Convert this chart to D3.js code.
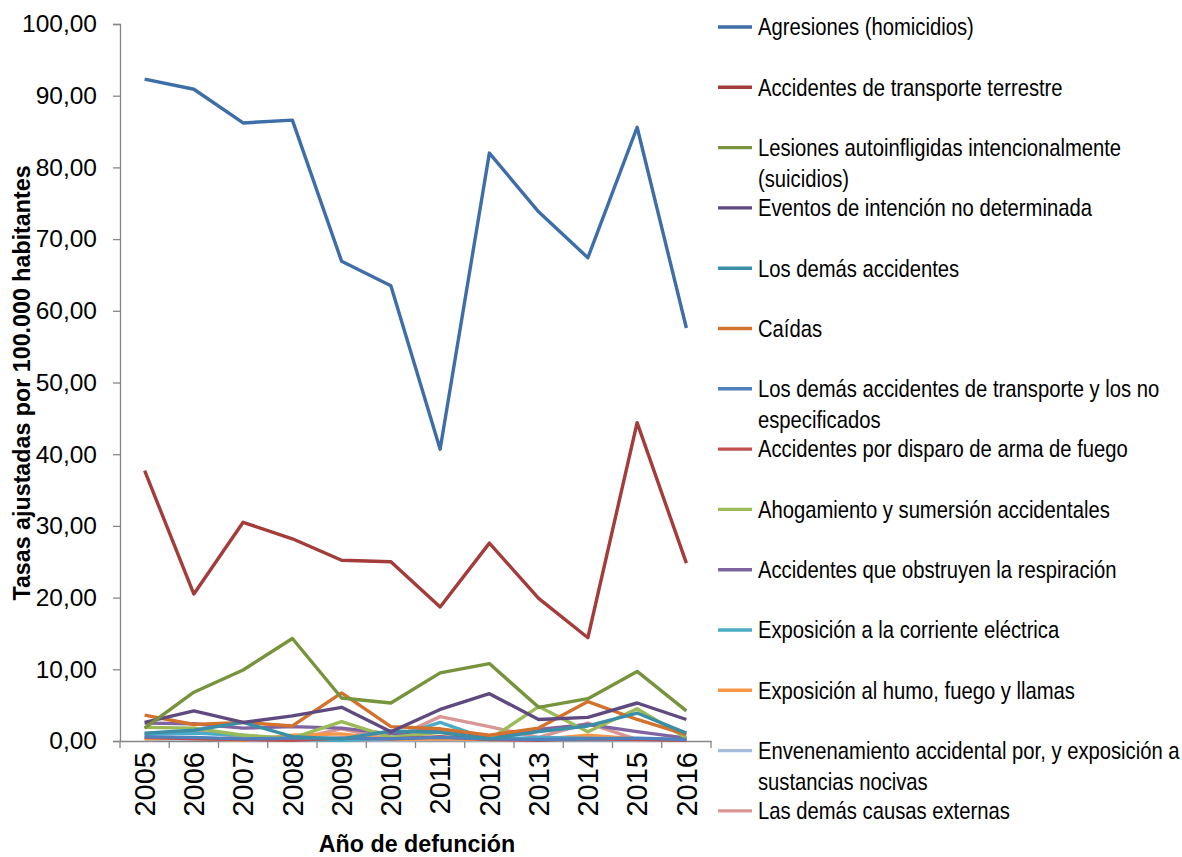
<!DOCTYPE html>
<html>
<head>
<meta charset="utf-8">
<script src="https://cdn.jsdelivr.net/npm/d3@7"></script>
<style>
  html, body { margin: 0; padding: 0; background: #fff; }
  svg text { font-family: "Liberation Sans", Arial, sans-serif; fill: #000; }
</style>
</head>
<body>
<svg id="chart" width="1182" height="857"></svg>
<script>
// Años de defunción (categorías del eje X)
const years = ["2005","2006","2007","2008","2009","2010","2011","2012","2013","2014","2015","2016"];

// Etiquetas del eje Y
const yTicks = [0, 10, 20, 30, 40, 50, 60, 70, 80, 90, 100];

// Tasas ajustadas por 100.000 habitantes, por causa
const agresiones        = [92.3, 90.9, 86.2, 86.6, 66.9, 63.5, 40.7, 82.0, 73.8, 67.4, 85.6, 57.6];
const transporteTerr    = [37.7, 20.5, 30.5, 28.2, 25.2, 25.0, 18.7, 27.6, 19.9, 14.4, 44.4, 24.8];
const suicidios         = [1.8, 6.8, 9.9, 14.3, 6.0, 5.3, 9.5, 10.8, 4.7, 5.9, 9.7, 4.2];
const intencionNoDet    = [2.6, 4.2, 2.6, 3.5, 4.7, 1.3, 4.4, 6.6, 3.0, 3.3, 5.3, 3.0];
const demasAccidentes   = [1.1, 1.5, 2.6, 0.6, 0.3, 1.4, 1.2, 0.3, 1.3, 2.1, 3.9, 1.1];
const caidas            = [3.6, 2.3, 2.6, 2.1, 6.7, 2.0, 1.7, 0.8, 1.8, 5.5, 3.0, 0.9];
const demasTransporte   = [0.6, 0.5, 0.3, 0.4, 0.4, 0.3, 0.5, 0.3, 0.2, 0.3, 0.4, 0.2];
const armaFuego         = [0.5, 0.3, 0.2, 0.1, 0.4, 0.3, 0.6, 0.2, 0.1, 0.3, 0.2, 0.1];
const ahogamiento       = [1.9, 1.8, 0.8, 0.4, 2.7, 0.5, 1.2, 0.2, 4.8, 1.3, 4.5, 0.4];
const obstruyenResp     = [2.5, 2.4, 1.8, 2.0, 1.8, 1.0, 1.6, 0.5, 1.6, 2.3, 1.3, 0.4];
const corrienteElec     = [1.0, 1.1, 0.8, 0.2, 0.1, 0.4, 2.6, 0.2, 0.5, 0.4, 0.3, 0.1];
const humoFuego         = [0.3, 0.4, 0.1, 0.8, 1.0, 0.2, 0.3, 0.2, 0.2, 0.8, 0.3, 0.1];
const envenenamiento    = [0.2, 0.3, 0.1, 0.1, 0.2, 0.1, 0.2, 0.1, 0.1, 0.2, 0.1, 0.1];
const demasCausas       = [1.0, 1.3, 0.6, 0.2, 1.7, 0.2, 3.4, 2.0, 0.5, 2.5, 0.2, 0.2];

// Nombres de las series (líneas de la leyenda)
const seriesNames = [
  ["Agresiones (homicidios)"],
  ["Accidentes de transporte terrestre"],
  ["Lesiones autoinfligidas intencionalmente", "(suicidios)"],
  ["Eventos de intención no determinada"],
  ["Los demás accidentes"],
  ["Caídas"],
  ["Los demás accidentes de transporte y los no", "especificados"],
  ["Accidentes por disparo de arma de fuego"],
  ["Ahogamiento y sumersión accidentales"],
  ["Accidentes que obstruyen la respiración"],
  ["Exposición a la corriente eléctrica"],
  ["Exposición al humo, fuego y llamas"],
  ["Envenenamiento accidental por, y exposición a", "sustancias nocivas"],
  ["Las demás causas externas"]
];

const seriesColors = [
  "#3e6ea8", "#a33c3a", "#77933c", "#5f4a80", "#3a8ea6", "#d2722c",
  "#4f81bd", "#c0504d", "#9bbb59", "#8064a2", "#4bacc6", "#f79646",
  "#a5bbd9", "#d99694"
];

const seriesValues = [
  agresiones, transporteTerr, suicidios, intencionNoDet, demasAccidentes, caidas,
  demasTransporte, armaFuego, ahogamiento, obstruyenResp, corrienteElec, humoFuego,
  envenenamiento, demasCausas
];

const series = seriesNames.map((name, i) => ({ name, color: seriesColors[i], values: seriesValues[i] }));

const svg = d3.select("#chart");
const plot = { left: 120, right: 711, top: 24, bottom: 741 };

const x = d3.scaleBand().domain(years).range([plot.left, plot.right]);
const y = d3.scaleLinear().domain([0, 100]).range([plot.bottom, plot.top]);

const axisColor = "#868686";
const fmt = v => d3.format(".2f")(v).replace(".", ",");

// Eje Y
const yAxis = svg.append("g")
  .attr("transform", `translate(${plot.left},0)`)
  .call(d3.axisLeft(y).tickValues(yTicks).tickFormat(fmt).tickSize(7).tickPadding(16));
yAxis.select(".domain").attr("stroke", axisColor).attr("stroke-width", 1.3);
yAxis.selectAll(".tick line").attr("stroke", axisColor).attr("stroke-width", 1.3);
yAxis.selectAll(".tick text").style("font-size", "24.5px");

// Eje X
const xAxis = svg.append("g")
  .attr("transform", `translate(0,${plot.bottom})`)
  .call(d3.axisBottom(x).tickSize(0).tickSizeOuter(0));
xAxis.select(".domain").attr("stroke", axisColor).attr("stroke-width", 1.3);
xAxis.selectAll(".tick text")
  .style("font-size", "29px")
  .attr("text-anchor", "end")
  .attr("dy", "0.35em")
  .attr("transform", "translate(0,11) rotate(-90)")
  .attr("x", 0).attr("y", 0);

// Marcas entre categorías
const boundaries = years.map(d => x(d)).concat([plot.right]);
svg.append("g").selectAll("line").data(boundaries).join("line")
  .attr("x1", d => d).attr("x2", d => d)
  .attr("y1", plot.bottom).attr("y2", plot.bottom + 7)
  .attr("stroke", axisColor).attr("stroke-width", 1.3);

// Líneas de las series (la primera queda encima)
const line = d3.line()
  .x((d, i) => x(years[i]) + x.bandwidth() / 2)
  .y(d => y(d));

svg.append("g").selectAll("path").data(series.slice().reverse()).join("path")
  .attr("d", d => line(d.values))
  .attr("fill", "none")
  .attr("stroke", d => d.color)
  .attr("stroke-width", 3.4)
  .attr("stroke-linejoin", "round");

// Títulos de ejes
svg.append("text")
  .attr("transform", "translate(417,852) scale(0.95,1)")
  .attr("text-anchor", "middle")
  .style("font-size", "24.5px").style("font-weight", "bold")
  .text("Año de defunción");

svg.append("text")
  .attr("transform", "translate(30,383) rotate(-90) scale(0.95,1)")
  .attr("text-anchor", "middle")
  .style("font-size", "24.5px").style("font-weight", "bold")
  .text("Tasas ajustadas por 100.000 habitantes");

// Leyenda
const legend = svg.append("g");
const legendStep = 60.3;
series.forEach((s, i) => {
  const cy = 27 + i * legendStep;
  legend.append("line")
    .attr("x1", 718).attr("x2", 752)
    .attr("y1", cy).attr("y2", cy)
    .attr("stroke", s.color).attr("stroke-width", 3.4);
  s.name.forEach((t, j) => {
    legend.append("text")
      .attr("transform", `translate(758,${cy + j * 31}) scale(0.85,1)`)
      .attr("dy", "0.35em")
      .style("font-size", "23.8px")
      .text(t);
  });
});
</script>
</body>
</html>
